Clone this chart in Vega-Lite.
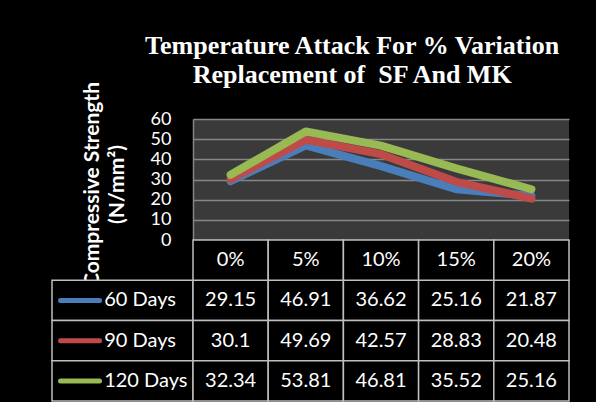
{
  "$schema": "https://vega.github.io/schema/vega-lite/v6.json",
  "background": "black",
  "padding": {"left": 50, "top": 33, "right": 26, "bottom": 0},
  "config": {"view": {"stroke": null}},
  "title": {
    "text": ["Temperature Attack For % Variation", "Replacement of \u00a0SF And MK"],
    "font": "Liberation Serif",
    "fontSize": 26,
    "fontWeight": "bold",
    "color": "white",
    "lineHeight": 29,
    "anchor": "middle",
    "dx": 42,
    "offset": -7
  },
  "datasets": {
    "strength": [
      {"pct": "0%", "series": "60 Days", "value": 29.15},
      {"pct": "5%", "series": "60 Days", "value": 46.91},
      {"pct": "10%", "series": "60 Days", "value": 36.62},
      {"pct": "15%", "series": "60 Days", "value": 25.16},
      {"pct": "20%", "series": "60 Days", "value": 21.87},
      {"pct": "0%", "series": "90 Days", "value": 30.1},
      {"pct": "5%", "series": "90 Days", "value": 49.69},
      {"pct": "10%", "series": "90 Days", "value": 42.57},
      {"pct": "15%", "series": "90 Days", "value": 28.83},
      {"pct": "20%", "series": "90 Days", "value": 20.48},
      {"pct": "0%", "series": "120 Days", "value": 32.34},
      {"pct": "5%", "series": "120 Days", "value": 53.81},
      {"pct": "10%", "series": "120 Days", "value": 46.81},
      {"pct": "15%", "series": "120 Days", "value": 35.52},
      {"pct": "20%", "series": "120 Days", "value": 25.16}
    ],
    "pcts": [{"pct": "0%"}, {"pct": "5%"}, {"pct": "10%"}, {"pct": "15%"}, {"pct": "20%"}],
    "series": [{"series": "60 Days"}, {"series": "90 Days"}, {"series": "120 Days"}]
  },
  "columns": 2,
  "spacing": 0,
  "bounds": "flush",
  "concat": [
    {
      "data": {"values": []},
      "width": 141,
      "height": 121,
      "mark": "point"
    },
    {
      "data": {"name": "strength"},
      "width": 376,
      "height": 121,
      "view": {"fill": "#3a3a3a", "stroke": null},
      "mark": {"type": "line", "strokeWidth": 8, "strokeCap": "round", "strokeJoin": "round"},
      "encoding": {
        "x": {"field": "pct", "type": "ordinal", "sort": ["0%", "5%", "10%", "15%", "20%"], "axis": null, "scale": {"type": "point", "padding": 0.5}},
        "y": {
          "field": "value", "type": "quantitative",
          "scale": {"domain": [0, 60], "nice": false},
          "axis": {
            "values": [0, 10, 20, 30, 40, 50, 60],
            "grid": true, "gridColor": "#868686", "gridWidth": 1.5,
            "ticks": false, "domain": true, "domainColor": "#868686", "domainWidth": 1.5,
            "labelColor": "white", "labelFont": "Lato", "labelFontSize": 18, "labelPadding": 22,
            "title": ["Compressive Strength", "(N/mm²)"],
            "titleFont": "Lato", "titleFontSize": 21, "titleFontWeight": "bold", "titleColor": "white",
            "titleLineHeight": 25, "titlePadding": 23, "titleY": 65
          }
        },
        "color": {
          "field": "series", "type": "nominal",
          "scale": {"domain": ["60 Days", "90 Days", "120 Days"], "range": ["#4a7ebb", "#be4b48", "#98b954"]},
          "legend": null
        }
      }
    },
    {
      "data": {"name": "series"},
      "width": 141,
      "height": 161,
      "encoding": {
        "y": {"field": "series", "type": "nominal", "scale": {"domain": ["Header", "60 Days", "90 Days", "120 Days"], "paddingInner": 0, "paddingOuter": 0}, "axis": null}
      },
      "layer": [
        {
          "mark": {"type": "rect", "fill": "black", "stroke": "#bfbfbf", "strokeWidth": 1.5},
          "encoding": {
            "x": {"datum": 0, "type": "quantitative", "scale": {"domain": [0, 1], "nice": false, "zero": false}, "axis": null},
            "x2": {"datum": 1}
          }
        },
        {
          "mark": {"type": "point", "shape": "M-1,0L1,0", "size": 1521, "strokeWidth": 5, "strokeCap": "round", "filled": false, "opacity": 1},
          "encoding": {
            "x": {"datum": 0.199, "type": "quantitative"},
            "color": {
              "field": "series", "type": "nominal",
              "scale": {"domain": ["60 Days", "90 Days", "120 Days"], "range": ["#4a7ebb", "#be4b48", "#98b954"]},
              "legend": null
            }
          }
        },
        {
          "mark": {"type": "text", "align": "left", "color": "white", "font": "Lato", "fontSize": 20},
          "encoding": {
            "x": {"datum": 0.37, "type": "quantitative"},
            "text": {"field": "series", "type": "nominal"}
          }
        }
      ]
    },
    {
      "width": 376,
      "height": 161,
      "layer": [
        {
          "data": {"name": "strength"},
          "mark": {"type": "rect", "fill": "black", "stroke": "#bfbfbf", "strokeWidth": 1.5},
          "encoding": {
            "x": {"field": "pct", "type": "nominal", "sort": ["0%", "5%", "10%", "15%", "20%"], "scale": {"paddingInner": 0, "paddingOuter": 0}, "axis": null},
            "y": {"field": "series", "type": "nominal", "scale": {"domain": ["Header", "60 Days", "90 Days", "120 Days"], "paddingInner": 0, "paddingOuter": 0}, "axis": null}
          }
        },
        {
          "data": {"name": "strength"},
          "mark": {"type": "text", "color": "white", "font": "Lato", "fontSize": 20},
          "encoding": {
            "x": {"field": "pct", "type": "nominal", "sort": ["0%", "5%", "10%", "15%", "20%"]},
            "y": {"field": "series", "type": "nominal"},
            "text": {"field": "value", "type": "quantitative"}
          }
        },
        {
          "data": {"name": "pcts"},
          "mark": {"type": "rect", "fill": "black", "stroke": "#bfbfbf", "strokeWidth": 1.5},
          "encoding": {
            "x": {"field": "pct", "type": "nominal", "sort": ["0%", "5%", "10%", "15%", "20%"]},
            "y": {"datum": "Header", "type": "nominal"}
          }
        },
        {
          "data": {"name": "pcts"},
          "mark": {"type": "text", "color": "white", "font": "Lato", "fontSize": 20},
          "encoding": {
            "x": {"field": "pct", "type": "nominal", "sort": ["0%", "5%", "10%", "15%", "20%"]},
            "y": {"datum": "Header", "type": "nominal"},
            "text": {"field": "pct", "type": "nominal"}
          }
        }
      ]
    }
  ]
}
